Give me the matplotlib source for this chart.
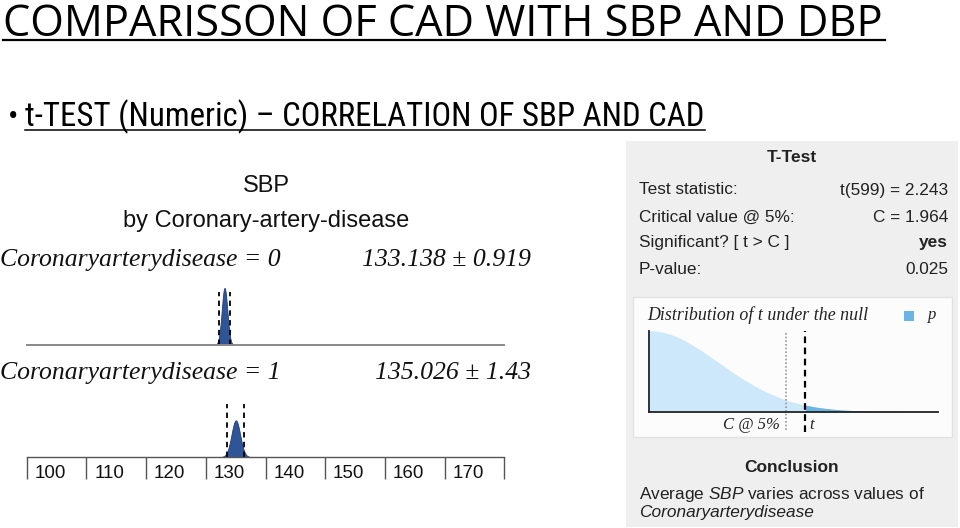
import math
import numpy as np
import matplotlib
matplotlib.use("Agg")
import matplotlib.pyplot as plt
from matplotlib import font_manager
from matplotlib.patches import Rectangle

# --- DATA ---
title = "COMPARISSON OF CAD WITH SBP AND DBP"
subtitle = "t-TEST (Numeric) \u2013 CORRELATION OF SBP AND CAD"
group_labels = ["Coronaryarterydisease = 0", "Coronaryarterydisease = 1"]
group_means = [133.138, 135.026]
group_ci = [0.919, 1.43]
axis_ticks = [100, 110, 120, 130, 140, 150, 160, 170, 180]
tick_labels = ["100", "110", "120", "130", "140", "150", "160", "170"]
test_rows = ["Test statistic:", "Critical value @ 5%:", "Significant? [ t > C ]", "P-value:"]
test_values = ["t(599) = 2.243", "C = 1.964", "yes", "0.025"]
df_t = 599
t_stat = 2.243
t_crit = 1.964

# --- FONTS ---
names = {f.name for f in font_manager.fontManager.ttflist}
narrow = "Roboto"
for cand in ["Liberation Sans Narrow", "Roboto Condensed", "Open Sans Condensed"]:
    if cand in names:
        narrow = cand
        break
plt.rcParams["font.family"] = ["Liberation Sans", "DejaVu Sans"]
plt.rcParams["mathtext.fontset"] = "custom"
plt.rcParams["mathtext.rm"] = "Liberation Sans"
plt.rcParams["mathtext.it"] = "Liberation Sans:italic"

W, H = 960, 528
fig = plt.figure(figsize=(W / 100, H / 100), dpi=100)
fig.patch.set_facecolor("white")

bg = fig.add_axes([0, 0, 1, 1])
bg.set_xlim(0, W)
bg.set_ylim(H, 0)
bg.axis("off")


def px_axes(x0, y0, x1, y1):
    return fig.add_axes([x0 / W, 1 - y1 / H, (x1 - x0) / W, (y1 - y0) / H])


def fit_width(txt, width, max_size):
    r = fig.canvas.get_renderer()
    w = txt.get_window_extent(r).width
    txt.set_fontsize(min(max_size, txt.get_fontsize() * width / w))


# --- TITLES ---
t1 = bg.text(3, 36, title, fontsize=32, family="Open Sans", va="baseline", color="black")
fit_width(t1, 882, 33)
bg.plot([3, 885], [40, 40], color="black", lw=1.6)

bg.text(8, 126, "\u2022", fontsize=22, family=narrow, va="baseline")
t2 = bg.text(25, 126, subtitle, fontsize=24, family=narrow, va="baseline", color="black")
fit_width(t2, 680, 24)
bg.plot([25, 705], [130, 130], color="black", lw=1.1)

# --- LEFT: SBP by group ---
bg.text(266, 186, "SBP", fontsize=17, ha="center", va="center", color="#111111")
bg.text(266, 221, "by Coronary-artery-disease", fontsize=17, ha="center", va="center",
        color="#111111")

serif_it = dict(family="Liberation Serif", style="italic", fontsize=18.5, color="#111111")
label_y = [260, 373]
for lab, m, ci, ly in zip(group_labels, group_means, group_ci, label_y):
    bg.text(0, ly, lab, ha="left", va="center", **serif_it)
    bg.text(531, ly, f"{m} \u00b1 {ci}", ha="right", va="center", **serif_it)

px_per_dens = 67.0
ax_h = 60
ax_boxes = [(285, 345), (397, 457)]
for i, (m, ci) in enumerate(zip(group_means, group_ci)):
    y0, y1 = ax_boxes[i]
    ax = px_axes(26.7, y0, 504.3, y1)
    ax.set_xlim(axis_ticks[0], axis_ticks[-1])
    ax.set_ylim(0, ax_h / px_per_dens)
    ax.patch.set_alpha(0)
    sd = ci / 1.96
    xs = np.linspace(m - 3.2 * sd, m + 3.2 * sd, 200)
    ys = np.exp(-0.5 * ((xs - m) / sd) ** 2) / (sd * math.sqrt(2 * math.pi))
    ax.fill_between(xs, 0, ys, color="#2f5597", lw=0.6, edgecolor="#1f3f75")
    for v in (m - ci, m + ci):
        ax.axvline(v, ymin=0, ymax=53 / ax_h, color="black", lw=1.3,
                   ls=(0, (3, 2.4)))
    for s in ["top", "right", "left"]:
        ax.spines[s].set_visible(False)
    ax.set_yticks([])
    if i == 0:
        ax.spines["bottom"].set_color("#8a8a8a")
        ax.spines["bottom"].set_linewidth(1.4)
        ax.set_xticks([])
    else:
        ax.spines["bottom"].set_color("#555555")
        ax.spines["bottom"].set_linewidth(1.0)
        ax.set_xticks(axis_ticks)
        ax.set_xticklabels([])
        ax.tick_params(axis="x", direction="out", length=22 * 0.72, width=1.0,
                       color="#555555")
        for v, lab in zip(axis_ticks, tick_labels):
            ax.text(v + 1.3, -(473 - 457) / ax_h, lab, transform=ax.get_xaxis_transform(),
                    ha="left", va="center", fontsize=13.5, color="#111111")

# --- RIGHT PANEL ---
bg.add_patch(Rectangle((626, 141), 332, 386, facecolor="#efefef", edgecolor="none"))
bg.add_patch(Rectangle((633, 297), 319, 140, facecolor="#fcfcfc", edgecolor="#e2e2e2",
                       lw=1.0))

bg.text(792, 158, "T-Test", fontsize=12.5, weight="bold", ha="center", va="center",
        color="#222222")
row_y = [190, 217, 243, 270]
for lab, val, ry in zip(test_rows, test_values, row_y):
    bg.text(639, ry, lab, fontsize=12.4, ha="left", va="center", color="#222222")
    bg.text(948, ry, val, fontsize=12.4, ha="right", va="center", color="#222222",
            weight="bold" if val == "yes" else "normal")

serif_small = dict(family="Liberation Serif", style="italic", fontsize=12, color="#222222")
bg.text(647, 315, "Distribution of t under the null", ha="left", va="center",
        family="Liberation Serif", style="italic", fontsize=12.9, color="#222222")
bg.add_patch(Rectangle((904, 311), 10, 10, facecolor="#6cb4e4", edgecolor="none"))
bg.text(928, 315, "p", ha="left", va="center", **serif_small)

# t density under the null
dax = px_axes(649, 330.7, 938, 411.7)
xmax = (938 - 649) / ((786 - 649) / t_crit)
tx = np.linspace(0, xmax, 300)
c = math.exp(math.lgamma((df_t + 1) / 2) - math.lgamma(df_t / 2)) / math.sqrt(df_t * math.pi)
ty = c * (1 + tx ** 2 / df_t) ** (-(df_t + 1) / 2)
dax.set_xlim(0, xmax)
dax.set_ylim(0, ty.max())
dax.patch.set_alpha(0)
dax.fill_between(tx, 0, ty, color="#cde8fa", lw=0)
dax.fill_between(tx, 0, ty, where=tx >= t_stat, color="#6cb4e4", lw=0)
for s in ["top", "right"]:
    dax.spines[s].set_visible(False)
for s in ["left", "bottom"]:
    dax.spines[s].set_color("#222222")
    dax.spines[s].set_linewidth(1.3)
dax.set_xticks([])
dax.set_yticks([])
dax.axvline(t_crit, ymin=-(430 - 411.7) / 81, ymax=1.0, color="#999999", lw=1.2,
            ls=(0, (1, 1.2)), clip_on=False)
dax.axvline(t_stat, ymin=-(432 - 411.7) / 81, ymax=1.0, color="black", lw=1.6,
            ls=(0, (3, 2)), clip_on=False)
bg.text(780, 425, "C @ 5%", ha="right", va="center", **serif_small)
bg.text(809, 425, "t", ha="left", va="center", **serif_small)

bg.text(792, 467, "Conclusion", fontsize=12.5, weight="bold", ha="center", va="center",
        color="#222222")
bg.text(639, 494, r"Average $\mathit{SBP}$ varies across values of", fontsize=12.4,
        ha="left", va="center", color="#222222")
bg.text(639, 512, "Coronaryarterydisease", fontsize=12.4, style="italic", ha="left",
        va="center", color="#222222")

fig.savefig("out.png", dpi=100)
